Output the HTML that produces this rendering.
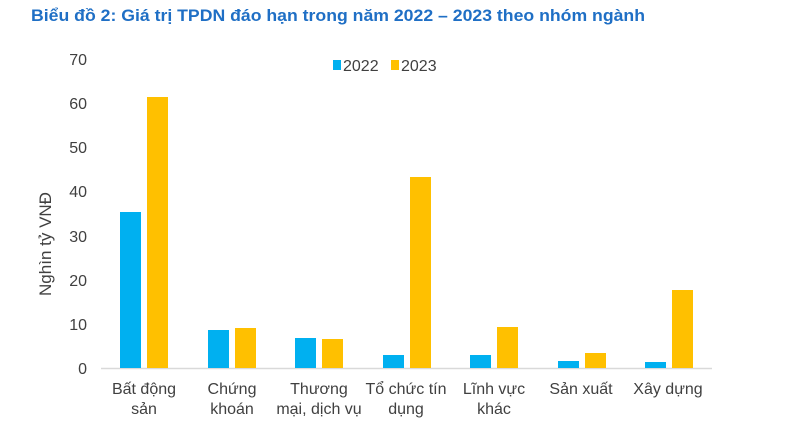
<!DOCTYPE html>
<html><head><meta charset="utf-8"><style>
body{margin:0;background:#fff;width:800px;height:420px;overflow:hidden}
svg text{font-family:"Liberation Sans Narrow","Liberation Sans",sans-serif;fill:#404040}
</style></head><body>
<svg width="800" height="420" xmlns="http://www.w3.org/2000/svg">
<text x="31" y="21" textLength="614" lengthAdjust="spacingAndGlyphs" style="font-family:'Liberation Sans',sans-serif;font-weight:bold;font-size:17px;fill:#1F6FC5">Biểu đồ 2: Giá trị TPDN đáo hạn trong năm 2022 – 2023 theo nhóm ngành</text>
<g font-size="16" text-anchor="end">
<text x="87" y="374">0</text><text x="87" y="330">10</text><text x="87" y="286">20</text><text x="87" y="242">30</text><text x="87" y="197">40</text><text x="87" y="153">50</text><text x="87" y="109">60</text><text x="87" y="65">70</text>
</g>
<text transform="translate(51,244) rotate(-90)" text-anchor="middle" font-size="17" style="font-family:'Liberation Sans',sans-serif">Nghìn tỷ VNĐ</text>
<rect x="333" y="60" width="8" height="10" fill="#00B0F0"/>
<text x="343" y="71" font-size="16">2022</text>
<rect x="391" y="60" width="8" height="10" fill="#FFC000"/>
<text x="401" y="71" font-size="16">2023</text>
<line x1="101" y1="368.5" x2="712" y2="368.5" stroke="#d9d9d9" stroke-width="1.5"/>
<g fill="#00B0F0">
<rect x="120" y="212" width="21" height="156"/>
<rect x="208" y="330" width="21" height="38"/>
<rect x="295" y="338" width="21" height="30"/>
<rect x="383" y="355" width="21" height="13"/>
<rect x="470" y="355" width="21" height="13"/>
<rect x="558" y="361" width="21" height="7"/>
<rect x="645" y="362" width="21" height="6"/>
</g>
<g fill="#FFC000">
<rect x="147" y="97" width="21" height="271"/>
<rect x="235" y="328" width="21" height="40"/>
<rect x="322" y="339" width="21" height="29"/>
<rect x="410" y="177" width="21" height="191"/>
<rect x="497" y="327" width="21" height="41"/>
<rect x="585" y="353" width="21" height="15"/>
<rect x="672" y="290" width="21" height="78"/>
</g>
<g font-size="16" text-anchor="middle">
<text x="144" y="394">Bất động</text><text x="144" y="414">sản</text>
<text x="232" y="394">Chứng</text><text x="232" y="414">khoán</text>
<text x="319" y="394">Thương</text><text x="319" y="414">mại, dịch vụ</text>
<text x="406" y="394">Tổ chức tín</text><text x="406" y="414">dụng</text>
<text x="494" y="394">Lĩnh vực</text><text x="494" y="414">khác</text>
<text x="581" y="394">Sản xuất</text>
<text x="668" y="394">Xây dựng</text>
</g>
</svg>
</body></html>
